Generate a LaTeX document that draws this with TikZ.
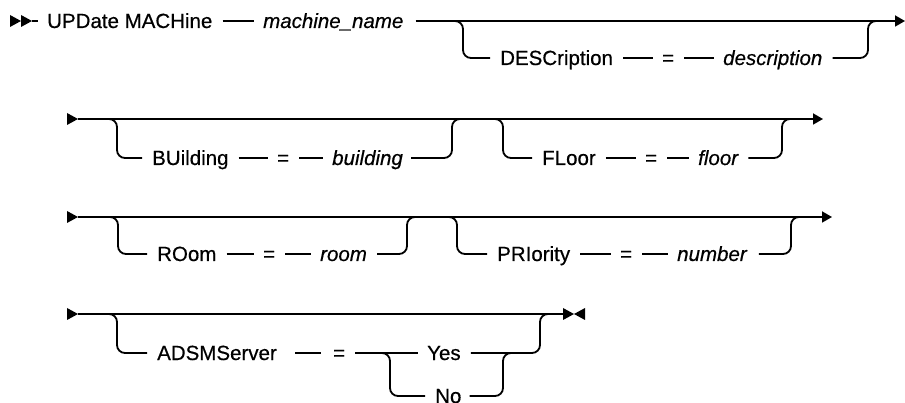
\documentclass[tikz,border=0pt]{standalone}
\usepackage{fontspec}
\setmainfont{Liberation Sans}
\newfontfamily\diagfont[FakeBold=0.5]{Liberation Sans}
\usetikzlibrary{arrows.meta}
\begin{document}
\begin{tikzpicture}[x=1pt,y=-1pt,
  rr/.style={line width=1.8pt, line join=round},
  kw/.style={inner sep=0pt, text height=14pt, text depth=0pt, anchor=west, font=\diagfont\fontsize{20.5}{24}\selectfont},
  var/.style={kw, font=\diagfont\fontsize{20.5}{24}\selectfont\itshape},
  seg/.style={rr, shorten <=10pt, shorten >=9pt},
  rbend/.style={rr, rounded corners=8pt},
  arrowend/.style={-{Triangle[length=10pt,width=11pt]}},
  solidmark/.style={fill=black}
]
\useasboundingbox (0,0) rectangle (905,403);

% ---------- Row 1 ----------
\coordinate (s1) at (10,21);
\fill[solidmark] (10,15) -- (21,21) -- (10,27) -- cycle;
\fill[solidmark] (21,15) -- (32,21) -- (21,27) -- cycle;
\node[kw]  (t1) at (47,21)  {UPDate MACHine};
\node[var] (t2) at (263,21) {machine\_name};
\coordinate (e1) at (905,21);
\draw[rr, shorten >=9pt] ([xshift=22pt]s1) -- (t1);
\draw[seg] (t1) -- (t2);
\draw[rr, arrowend, shorten <=12pt] (t2) -- (e1);

\node[kw]  (d1) at (500,58) {DESCription};
\node[kw]  (d2) at (662,58) {=};
\node[var] (d3) at (723,58) {description};
\coordinate (b1L) at (453,21);
\coordinate (b1R) at (878,21);
\draw[seg] (d1) -- (d2);
\draw[seg] (d2) -- (d3);
\draw[rbend] (b1L) -- ++(10,0) |- ([xshift=-10pt]d1.west);
\draw[rbend] ([xshift=10pt]d3.east) -| ([xshift=-10pt]b1R) -- (b1R);

% ---------- Row 2 ----------
\coordinate (s2) at (78,119);
\fill[solidmark] (67,113) -- (78,119) -- (67,125) -- cycle;
\coordinate (e2) at (823,119);
\draw[rr, arrowend] (s2) -- (e2);

\node[kw]  (bu1) at (152,158) {BUilding};
\node[kw]  (bu2) at (277,158) {=};
\node[var] (bu3) at (332,158) {building};
\coordinate (b2aL) at (107,119);
\coordinate (b2aR) at (462,119);
\draw[seg] (bu1) -- (bu2);
\draw[seg] (bu2) -- (bu3);
\draw[rbend] (b2aL) -- ++(10,0) |- ([xshift=-10pt]bu1.west);
\draw[rbend] ([xshift=8pt]bu3.east) -| ([xshift=-10pt]b2aR) -- (b2aR);

\node[kw]  (fl1) at (542,158) {FLoor};
\node[kw]  (fl2) at (645,158) {=};
\node[var] (fl3) at (698,158) {floor};
\coordinate (b2bL) at (493,119);
\coordinate (b2bR) at (792,119);
\draw[seg] (fl1) -- (fl2);
\draw[seg] (fl2) -- (fl3);
\draw[rbend] (b2bL) -- ++(10,0) |- ([xshift=-10pt]fl1.west);
\draw[rbend] ([xshift=10pt]fl3.east) -| ([xshift=-10pt]b2bR) -- (b2bR);

% ---------- Row 3 ----------
\coordinate (s3) at (78,217);
\fill[solidmark] (67,211) -- (78,217) -- (67,223) -- cycle;
\coordinate (e3) at (832,217);
\draw[rr, arrowend] (s3) -- (e3);

\node[kw]  (ro1) at (157,254) {ROom};
\node[kw]  (ro2) at (263,254) {=};
\node[var] (ro3) at (320,254) {room};
\coordinate (b3aL) at (108,217);
\coordinate (b3aR) at (417,217);
\draw[seg] (ro1) -- (ro2);
\draw[seg] (ro2) -- (ro3);
\draw[rbend] (b3aL) -- ++(10,0) |- ([xshift=-10pt]ro1.west);
\draw[rbend] ([xshift=10pt]ro3.east) -| ([xshift=-10pt]b3aR) -- (b3aR);

\node[kw]  (pr1) at (497,254) {PRIority};
\node[kw]  (pr2) at (620,254) {=};
\node[var] (pr3) at (677,254) {number};
\coordinate (b3bL) at (447,217);
\coordinate (b3bR) at (801,217);
\draw[seg] (pr1) -- (pr2);
\draw[seg] (pr2) -- (pr3);
\draw[rbend] (b3bL) -- ++(10,0) |- ([xshift=-10pt]pr1.west);
\draw[rbend] ([xshift=12pt]pr3.east) -| ([xshift=-10pt]b3bR) -- (b3bR);

% ---------- Row 4 ----------
\coordinate (s4) at (78,314);
\fill[solidmark] (67,308) -- (78,314) -- (67,320) -- cycle;
\coordinate (end4) at (563,314);
\draw[rr] (s4) -- (end4);
\fill[solidmark] (563,308) -- (574,314) -- (563,320) -- cycle;
\fill[solidmark] (585,308) -- (574,314) -- (585,320) -- cycle;

\node[kw] (ad1) at (157,353) {ADSMServer};
\node[kw] (ad2) at (333,353) {=};
\node[kw] (yes) at (427,353) {Yes};
\node[kw] (no)  at (435,396) {No};
\coordinate (b4L) at (107,314);
\coordinate (b4R) at (550,314);
\coordinate (c4L) at (380,353);
\coordinate (c4R) at (513,353);
\draw[rr, shorten <=18pt, shorten >=12pt] (ad1) -- (ad2);
\draw[seg] (ad2) -- (yes);
\draw[rbend] (b4L) -- ++(10,0) |- ([xshift=-10pt]ad1.west);
\draw[rbend] (c4L) -- ++(10,0) |- ([xshift=-10pt]no.west);
\draw[rbend] ([xshift=8pt]no.east) -| ([xshift=-10pt]c4R) -- (c4R);
\draw[rbend] ([xshift=10pt]yes.east) -| ([xshift=-10pt]b4R) -- (b4R);
\end{tikzpicture}
\end{document}
